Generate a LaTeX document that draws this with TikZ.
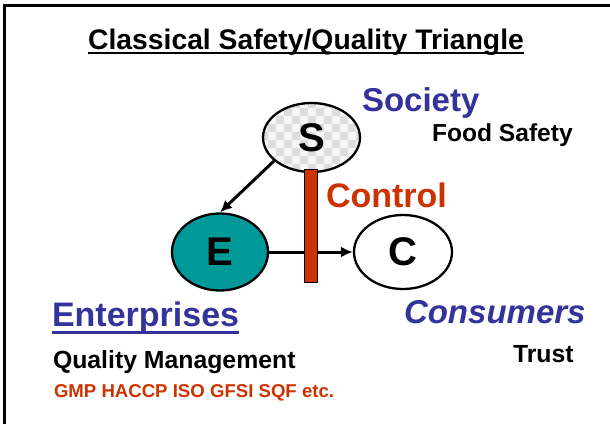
\documentclass[tikz,border=0pt]{standalone}
\usepackage{fontspec}
\setmainfont{Liberation Sans}
\usetikzlibrary{shapes.geometric,arrows.meta}
\definecolor{tblue}{HTML}{333399}
\definecolor{tred}{HTML}{CC3300}
\definecolor{tteal}{HTML}{009999}
\definecolor{chkA}{HTML}{DCDCDC}
\definecolor{chkB}{HTML}{F6F6F6}
\newcommand{\fsz}[1]{\fontsize{#1}{#1}\selectfont}
\tikzset{
  lbl/.style={inner sep=0pt, outer sep=0pt, anchor=base west, font=\bfseries},
  party/.style={ellipse, draw=black, line width=2.3pt, inner sep=0pt, font=\bfseries\fsz{40}},
  flow/.style={line width=3pt, -{Latex[length=12pt,width=11pt]}},
  ctrlbar/.style={draw=black, line width=0.8pt, fill=tred, minimum width=13pt, minimum height=113pt, inner sep=0pt},
}
\begin{document}
\begin{tikzpicture}[x=1pt,y=-1pt]
\useasboundingbox (0,0) rectangle (610,424);
\fill[white] (0,0) rectangle (610,424);
% frame (top and left edges)
\draw[line width=3pt, line join=miter] (4.5,424) -- (4.5,5.5) -- (610,5.5);
% title
\node[lbl, anchor=base, font=\bfseries\fsz{28.3}] (title) at (306,49.3) {Classical Safety/Quality Triangle};
\draw[line width=2.2pt] ([yshift=-4pt]title.base west) -- ([yshift=-4pt]title.base east);
% S checker fill
\begin{scope}
  \clip (311.5,137.5) ellipse [x radius=48.5pt, y radius=34.5pt];
  \fill[chkB] (260,100) rectangle (366,176);
  \foreach \i in {0,...,13} {
    \foreach \j in {0,...,9} {
      \pgfmathtruncatemacro{\parity}{mod(\i+\j,2)}
      \ifnum\parity=0
        \fill[chkA] (260+8*\i,100+8*\j) rectangle ++(8,8);
      \fi
    }
  }
\end{scope}
\node[party, minimum width=97pt, minimum height=69pt] (S) at (311.5,137.5) {S};
\node[party, fill=tteal, minimum width=96pt, minimum height=77pt] (E) at (220,252) {E};
\node[party, fill=white, minimum width=98pt, minimum height=74pt] (C) at (403,252) {C};
% connectors
\draw[flow] (S.212) -- (E.north);
\draw[flow] (E.east) -- (C.west);
% control bar (on top of the horizontal arrow)
\node[ctrlbar] (bar) at (310.5,226) {};
% labels
\node[lbl, text=tblue, font=\bfseries\fsz{33}] (society) at (362,111.7) {Society};
\node[lbl, font=\bfseries\fsz{24.6}] (food) at (432,141.7) {Food Safety};
\node[lbl, text=tred, font=\bfseries\fsz{34}] (control) at (326,207.7) {Control};
\node[lbl, text=tblue, font=\bfseries\fsz{34}] (ent) at (52,326.5) {Enterprises};
\draw[tblue, line width=3pt] ([yshift=-6pt]ent.base west) -- ([yshift=-6pt]ent.base east);
\node[lbl, font=\bfseries\fsz{24.8}] (qm) at (53,368) {Quality Management};
\node[lbl, text=tred, font=\bfseries\fsz{18.6}] (gmp) at (54,397) {GMP HACCP ISO GFSI SQF etc.};
\node[lbl, text=tblue, font=\bfseries\itshape\fsz{33}] (cons) at (404,323.3) {Consumers};
\node[lbl, font=\bfseries\fsz{24.8}] (trust) at (513,362.7) {Trust};
\end{tikzpicture}
\end{document}
